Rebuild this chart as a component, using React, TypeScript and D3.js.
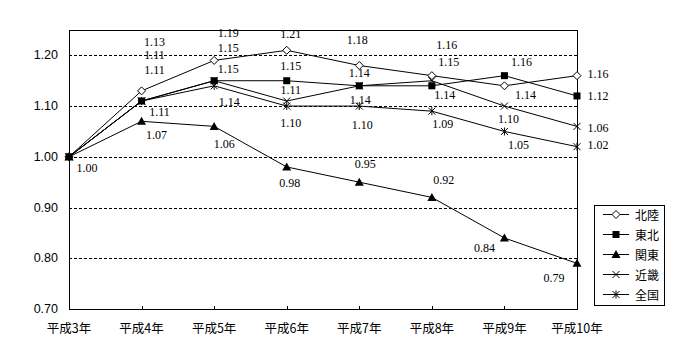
import React from "react";
import * as d3 from "d3";

const categories = ["平成3年", "平成4年", "平成5年", "平成6年", "平成7年", "平成8年", "平成9年", "平成10年"];
const hokuriku = [1.0, 1.13, 1.19, 1.21, 1.18, 1.16, 1.14, 1.16];
const tohoku = [1.0, 1.11, 1.15, 1.15, 1.14, 1.14, 1.16, 1.12];
const kanto = [1.0, 1.07, 1.06, 0.98, 0.95, 0.92, 0.84, 0.79];
const kinki = [1.0, 1.11, 1.15, 1.11, 1.14, 1.15, 1.1, 1.06];
const zenkoku = [1.0, 1.11, 1.14, 1.1, 1.1, 1.09, 1.05, 1.02];
const yTicks = [0.7, 0.8, 0.9, 1.0, 1.1, 1.2];

// label offsets (dx, dy) relative to each point; null = no label
const hokurikuLabelPos: ([number, number] | null)[] = [[18, 11], [13, -49], [14, -27.5], [4, -16], [-2, -26], [15, -31], [21, 9], [21, -2]];
const tohokuLabelPos: ([number, number] | null)[] = [null, [13, -46], [14, -33], [4, -15], [0, -13], [13, 9], [17, -14], [21, 0]];
const kantoLabelPos: ([number, number] | null)[] = [null, [15, 14], [10, 18], [3, 16], [6, -18], [12, -17], [-20, 10], [-23, 15]];
const kinkiLabelPos: ([number, number] | null)[] = [null, [13, -31], [14, -12], [4, -11], [1, 14], [17, -19], [4, 13], [21, 2]];
const zenkokuLabelPos: ([number, number] | null)[] = [null, [18, 11], [15, 16], [4, 17], [3, 19], [11, 13], [14, 14], [21, -2]];

type Marker = "diamond" | "square" | "triangle" | "x" | "asterisk";
const series: { name: string; values: number[]; marker: Marker; labels: ([number, number] | null)[] }[] = [
  { name: "北陸", values: hokuriku, marker: "diamond", labels: hokurikuLabelPos },
  { name: "東北", values: tohoku, marker: "square", labels: tohokuLabelPos },
  { name: "関東", values: kanto, marker: "triangle", labels: kantoLabelPos },
  { name: "近畿", values: kinki, marker: "x", labels: kinkiLabelPos },
  { name: "全国", values: zenkoku, marker: "asterisk", labels: zenkokuLabelPos },
];

const left = 69, right = 577, top = 30, bottom = 309;

function MarkerShape({ type, x, y }: { type: Marker; x: number; y: number }) {
  const t = `translate(${x},${y})`;
  switch (type) {
    case "diamond":
      return <path transform={t} d="M0,-4L4,0L0,4L-4,0Z" fill="#fff" stroke="#000" strokeWidth={1} />;
    case "square":
      return <rect transform={t} x={-3.5} y={-3.5} width={7} height={7} fill="#000" />;
    case "triangle":
      return <path transform={t} d="M0,-4.5L4.5,3.5L-4.5,3.5Z" fill="#000" />;
    case "x":
      return <path transform={t} d="M-3.5,-3.5L3.5,3.5M3.5,-3.5L-3.5,3.5" stroke="#000" strokeWidth={1} fill="none" />;
    case "asterisk":
      return <path transform={t} d="M-3.5,-3.5L3.5,3.5M3.5,-3.5L-3.5,3.5M0,-4L0,4" stroke="#000" strokeWidth={1} fill="none" />;
  }
}

export default function App() {
  const x = d3.scalePoint<string>().domain(categories).range([left, right]);
  const y = d3.scaleLinear().domain([0.7, 1.25]).range([bottom, top]);
  const line = d3
    .line<number>()
    .x((_, i) => x(categories[i]) as number)
    .y((d) => y(d));
  const fmt = d3.format(".2f");

  return (
    <svg
      width={700}
      height={360}
      style={{ position: "absolute", left: 0, top: 0, background: "#fff" }}
      shapeRendering="crispEdges"
    >
      <rect x={0} y={0} width={700} height={360} fill="#fff" />
      {/* gridlines */}
      {yTicks
        .filter((t) => t > 0.7)
        .map((t) => (
          <line key={t} x1={left} x2={right} y1={Math.round(y(t)) + 0.5} y2={Math.round(y(t)) + 0.5} stroke="#000" strokeDasharray="3,2" strokeWidth={1} />
        ))}
      {/* frame */}
      <rect x={left + 0.5} y={top + 0.5} width={right - left} height={bottom - top} fill="none" stroke="#000" strokeWidth={1} />
      <line x1={left} x2={right + 1} y1={bottom + 0.5} y2={bottom + 0.5} stroke="#000" strokeWidth={1.5} />
      {/* x ticks */}
      {categories.map((c) => (
        <line key={c} x1={Math.round(x(c) as number) + 0.5} x2={Math.round(x(c) as number) + 0.5} y1={bottom - 3} y2={bottom} stroke="#000" />
      ))}
      {/* y tick labels */}
      {yTicks.map((t) => (
        <text key={t} x={58} y={y(t)} textAnchor="end" dominantBaseline="central" fontFamily="'Liberation Sans', Arial, sans-serif" fontSize={12.5} fill="#000">
          {fmt(t)}
        </text>
      ))}
      {/* category labels */}
      {categories.map((c) => (
        <text key={c} x={x(c) as number} y={327} textAnchor="middle" dominantBaseline="central" fontFamily="'Noto Sans CJK JP', sans-serif" fontSize={12.5} fill="#000">
          {c}
        </text>
      ))}
      {/* lines */}
      <g shapeRendering="auto">
        {series.map((s) => (
          <path key={s.name} d={line(s.values) || ""} fill="none" stroke="#000" strokeWidth={1} />
        ))}
        {series.map((s) =>
          s.values.map((v, i) => <MarkerShape key={s.name + i} type={s.marker} x={x(categories[i]) as number} y={y(v)} />)
        )}
      </g>
      {/* data labels */}
      {series.map((s) =>
        s.values.map((v, i) => {
          const off = s.labels[i];
          if (!off) return null;
          return (
            <text
              key={s.name + "l" + i}
              x={(x(categories[i]) as number) + off[0]}
              y={y(v) + off[1]}
              textAnchor="middle"
              dominantBaseline="central"
              fontFamily="'Liberation Serif', 'DejaVu Serif', serif"
              fontSize={12}
              fill="#000"
            >
              {fmt(v)}
            </text>
          );
        })
      )}
      {/* legend */}
      <rect x={594.5} y={205.5} width={70} height={100} fill="#fff" stroke="#000" strokeWidth={1} />
      <g shapeRendering="auto">
        {series.map((s, i) => {
          const ly = 214.5 + i * 20;
          return (
            <g key={s.name}>
              <line x1={603} x2={629} y1={ly} y2={ly} stroke="#000" strokeWidth={1} />
              <MarkerShape type={s.marker} x={616} y={ly} />
              <text x={635} y={ly} dominantBaseline="central" fontFamily="'Noto Sans CJK JP', sans-serif" fontSize={12} fill="#000">
                {s.name}
              </text>
            </g>
          );
        })}
      </g>
    </svg>
  );
}
